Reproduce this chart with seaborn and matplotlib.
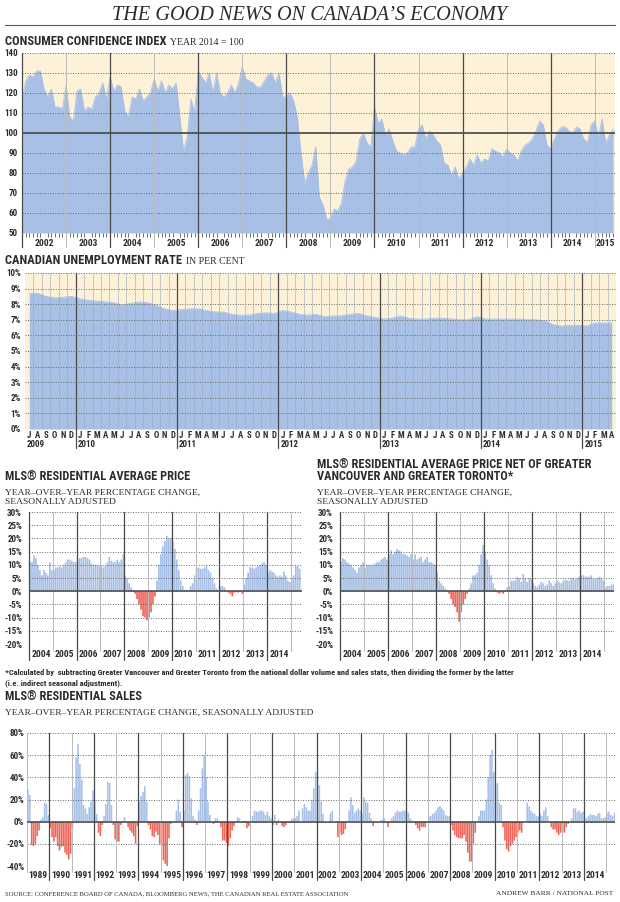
# %%
# Import libraries
from matplotlib import pyplot as plt
from matplotlib import font_manager
from matplotlib.lines import Line2D
from matplotlib.transforms import blended_transform_factory
import seaborn as sns
import pandas as pd
import numpy as np

# %%
# Values

# Consumer confidence index (2014 = 100), monthly from Jan 2002
cci_start = 2002
cci = [
    116, 126, 129, 128, 131, 131, 122, 118, 122, 113, 113, 112,  # 2002
    124, 108, 106, 121, 122, 111, 113, 112, 118, 120, 125, 117,  # 2003
    128, 121, 124, 123, 111, 108, 118, 117, 122, 116, 118, 120,  # 2004
    127, 121, 126, 120, 124, 122, 125, 108, 91, 98, 117, 110,    # 2005
    131, 128, 125, 130, 120, 130, 120, 118, 120, 124, 120, 125,  # 2006
    133, 127, 126, 125, 123, 123, 126, 129, 130, 125, 130, 118,  # 2007
    118, 120, 116, 108, 90, 75, 80, 84, 93, 68, 64, 57,          # 2008
    57, 62, 61, 65, 76, 82, 83, 86, 97, 100, 95, 93,             # 2009
    113, 105, 107, 99, 102, 96, 91, 90, 89, 90, 93, 93,          # 2010
    102, 104, 97, 101, 99, 96, 94, 85, 84, 79, 83, 77,           # 2011
    80, 83, 87, 84, 89, 85, 87, 86, 92, 91, 90, 88,              # 2012
    92, 90, 89, 86, 91, 94, 95, 97, 101, 106, 104, 94,           # 2013
    92, 97, 101, 103, 103, 101, 100, 103, 102, 97, 95, 104,      # 2014
    106, 98, 107, 95, 99, 102,                                   # 2015
]
cci_ticks = [50, 60, 70, 80, 90, 100, 110, 120, 130, 140]
cci_years = list(range(2002, 2016))

# Unemployment rate, monthly Jul 2009 - Apr 2015
jobless_start = (2009, 6)
jobless = [
    8.7, 8.7, 8.5, 8.4, 8.45, 8.5,                                     # 2009
    8.35, 8.25, 8.2, 8.15, 8.1, 7.95, 8.05, 8.15, 8.1, 7.95, 7.7, 7.6,  # 2010
    7.65, 7.7, 7.7, 7.6, 7.5, 7.5, 7.35, 7.3, 7.3, 7.4, 7.45, 7.4,     # 2011
    7.6, 7.5, 7.35, 7.3, 7.35, 7.2, 7.25, 7.25, 7.35, 7.4, 7.25, 7.15,  # 2012
    7.05, 7.1, 7.25, 7.1, 7.05, 7.05, 7.1, 7.1, 7.05, 7.0, 7.0, 7.2,   # 2013
    7.05, 7.05, 7.05, 7.05, 7.05, 7.0, 7.0, 6.95, 6.7, 6.6, 6.65, 6.65,  # 2014
    6.6, 6.8, 6.8, 6.8,                                                # 2015
]
month_letters = list('JFMAMJJASOND')
jobless_ticks = list(range(0, 11))

# MLS average price, y/y % change, monthly from Jan 2004
price_start = 2004
price = [
    11, 11, 13.5, 12.5, 10, 8, 6, 8, 7, 6, 11, 8,                 # 2004
    8, 9, 9, 9.5, 9, 10, 11, 12, 12, 11.5, 11, 11,               # 2005
    12, 12.5, 12.5, 13, 13, 12.5, 12, 10.5, 10, 10, 10, 9.5,     # 2006
    10, 9, 9.5, 11, 13, 11.5, 11, 11, 12, 11, 12, 14,            # 2007
    6, 5, 3, 1.5, 0.5, -1, -3, -5, -7, -9.5, -10, -11,           # 2008
    -10, -8, -5, -2, 4, 10, 14, 17, 19, 21, 20, 20,              # 2009
    19, 16, 12, 8, 4, 2, 0.5, 0.5, 0.5, 2, 3, 6,                 # 2010
    9, 9, 8.5, 8.5, 9, 9.5, 8, 7, 5, 3, 1, 0.5,                  # 2011
    2, 2, 1.5, 0.5, -0.5, -1, -2, -0.5, 0.5, -0.5, 0.5, -1,      # 2012
    2.5, 5, 7, 9, 9, 8.5, 9, 9.5, 10, 10.5, 11, 10,              # 2013
    7, 8, 7.5, 7, 6, 5.5, 6, 5.5, 7.5, 6, 4, 3.5,                # 2014
    5, 6, 9.5, 9.5, 8.5,                                         # 2015
]

# MLS average price net of Greater Vancouver and Greater Toronto
price_net = [
    11, 12.5, 12, 11, 10.5, 10, 9, 8, 7, 9, 10, 11,              # 2004
    9, 10, 10, 10, 10, 10.5, 11, 11, 12, 12.5, 13, 12,           # 2005
    14, 15.5, 14, 15, 16, 15.5, 15, 14, 14, 13.5, 13, 14,        # 2006
    12, 14, 12, 12.5, 13, 11, 12, 13, 11, 11, 10.5, 10,          # 2007
    7, 4, 3, 2, 1, 0.5, -1, -3, -5, -6, -8, -11.5,               # 2008
    -8, -5, -3, -1, 1, 3, 6, 6, 7, 10, 14, 17.5,                 # 2009
    15, 12, 10, 6, 3, 1, -0.5, -1, -0.5, -1, 0.5, 1.5,           # 2010
    2, 4, 4, 4, 5.5, 5, 3.5, 6.5, 5, 3.5, 5, 4.5,                # 2011
    3, 2, 1.5, 2.5, 3.5, 3, 2, 2.5, 4, 3, 2, 3,                  # 2012
    4, 3.5, 3, 4, 4.5, 4, 4, 5, 5, 4.5, 5, 5.5,                  # 2013
    6, 6, 5.5, 5.5, 5.5, 6, 5, 4.5, 5, 5.5, 5, 4,                # 2014
    1.5, 2, 2, 2.5, 2.5,                                         # 2015
]
price_ticks = [-20, -15, -10, -5, 0, 5, 10, 15, 20, 25, 30]
price_years = list(range(2004, 2015))

# MLS residential sales, y/y % change, monthly from Jan 1989
sales_start = 1989
sales = [
    29, 24, -21, -22, -20, -13, -8, 2, 4, 17, 16, 6,             # 1989
    -6, -14, -18, -14, -22, -26, -23, -22, -28, -30, -34, -29,   # 1990
    -5, 30, 58, 70, 52, 38, 15, 12, 7, 13, 18, 28,               # 1991
    20, 7, -10, -13, -3, 5, 16, 36, 35, 15, -3, -16,             # 1992
    -18, -18, -3, -1, 4, 0, -5, -8, -10, -13, -20, -4,           # 1993
    18, 23, 27, 32, 18, -3, -7, -13, -14, -9, -12, -20,          # 1994
    -22, -35, -38, -40, -15, -2, 0, 0, 10, 20, 9, -5,            # 1995
    10, 42, 44, 41, 21, 5, 2, -3, 10, 30, 48, 60,                # 1996
    40, 18, 6, 0, -2, 3, 3, 0, -5, -17, -17, -19,                # 1997
    -22, -15, -8, -4, 0, 4, 3, 0, -1, 1, -6, -4,                 # 1998
    0, 5, 10, 9, 9, 10, 10, 9, 6, 9, 5, 3,                       # 1999
    -3, 6, -3, 2, 0, -4, -5, -3, -1, -1, 2, 3,                   # 2000
    3, 5, 10, 0, 12, 16, 13, 10, 10, 20, 30, 45,                 # 2001
    40, 33, 18, 7, 0, 0, 0, 8, 10, 0, -1, -14,                   # 2002
    -10, -12, -11, -7, 0, 10, 22, 15, 8, 10, 12, 10,             # 2003
    7, 22, 18, 17, 8, 3, -4, 0, 0, 0, 1, 2,                      # 2004
    3, 0, -5, 0, 3, 5, 8, 10, 9, 9, 10, 10,                      # 2005
    10, 8, 3, 1, 0, -3, -6, -8, -5, -5, -5, 0,                   # 2006
    5, 5, 7, 8, 10, 13, 14, 12, 10, 6, 5, 5,                     # 2007
    -3, -8, -12, -14, -15, -15, -15, -12, -18, -28, -36, -36,    # 2008
    -20, -10, 0, 5, 10, 10, 10, 20, 40, 60, 65, 45,              # 2009
    33, 35, 17, 15, -5, -17, -25, -27, -22, -20, -17, -14,       # 2010
    -10, -8, -10, 0, 0, 17, 14, 10, 8, 7, 5, 5,                  # 2011
    7, 5, 10, 13, 5, 0, -5, -7, -7, -10, -12, -10,               # 2012
    -9, -10, -5, -2, 0, 3, 12, 12, 9, 10, 8, 9,                  # 2013
    2, 3, 5, 7, 6, 6, 5, 7, 8, 3, 3, 4,                          # 2014
    8, 9, 6, 5, 8,                                               # 2015
]
sales_ticks = [-40, -20, 0, 20, 40, 60, 80]
sales_years = list(range(1989, 2015))

# %%
# Style
W, H = 620, 902
CREAM = '#fdf1d8'
BLUE = '#a8c0e6'
BAR_BLUE = '#a6c0e8'
BAR_RED = '#f0665a'
INK = '#2b2b2b'
DARK = '#4a4a4a'
LIGHT = '#b9b9b9'
GRID = '#666666'
DOT = (0, (1, 1.6))

sns.set_theme(style='white')
names = {f.name for f in font_manager.fontManager.ttflist}
NARROW = next((f for f in ['Liberation Sans Narrow', 'Roboto Condensed', 'Roboto']
               if f in names), 'DejaVu Sans')
SERIF = 'Liberation Serif'
plt.rcParams['font.family'] = [NARROW, 'DejaVu Sans']
plt.rcParams['font.weight'] = 'bold'

fig = plt.figure(figsize=(W / 100, H / 100), dpi=100)
renderer = fig.canvas.get_renderer()


def add_ax(left, top, right, bottom):
    return fig.add_axes([left / W, 1 - bottom / H, (right - left) / W, (bottom - top) / H])


def ftext(x, y, s, **kw):
    kw.setdefault('color', INK)
    kw.setdefault('va', 'baseline')
    return fig.text(x / W, 1 - y / H, s, **kw)


def heading(x, y, title, sub=None, size=9):
    t = ftext(x, y, title, size=size, weight='bold')
    if sub:
        bb = t.get_window_extent(renderer)
        ftext(bb.x1 + 4, y, sub, size=7, family=SERIF, weight='normal')


def style_axis(ax, ticks, fmt, pad):
    ax.set_yticks(ticks)
    ax.set_yticklabels([fmt.format(v) for v in ticks])
    ax.grid(axis='y', color=GRID, lw=0.7, ls=DOT)
    ax.grid(axis='x', visible=False)
    ax.set_axisbelow(False)
    for s in ax.spines.values():
        s.set_visible(False)
    ax.tick_params(axis='y', length=0, pad=pad, labelsize=6.5, labelcolor=INK)
    ax.set_xlabel('')
    ax.set_ylabel('')


def year_lines(ax, years, dark_below, light_below):
    for y in years:
        even = y % 2 == 0
        ax.axvline(y, color=DARK if even else LIGHT, lw=0.9 if even else 0.7,
                   ymin=-(dark_below if even else light_below), ymax=1,
                   clip_on=False, zorder=3)


def bar_panel(ax, start, values, ticks, years, end, pad, xpad, dark_below, light_below):
    x = start + (np.arange(len(values)) + 0.5) / 12
    df = pd.DataFrame({'x': x, 'y': values})
    df['sign'] = np.where(df['y'] < 0, 'down', 'up')
    sns.barplot(data=df, x='x', y='y', hue='sign', native_scale=True,
                palette={'up': BAR_BLUE, 'down': BAR_RED}, width=0.86,
                saturation=1, errorbar=None, legend=False, linewidth=0, ax=ax)
    # no pixel snapping, so the thin gaps between bars stay even
    for p in ax.patches:
        p.set_snap(False)
    ax.set_xlim(start, end)
    ax.set_ylim(ticks[0], ticks[-1])
    style_axis(ax, ticks, '{}%', pad)
    ax.axhline(0, color=DARK, lw=1.1, zorder=4)
    year_lines(ax, range(start, int(end) + 1), dark_below, light_below)
    ax.set_xticks([y + 0.5 for y in years])
    ax.set_xticklabels([str(y) for y in years])
    ax.tick_params(axis='x', length=0, pad=xpad, labelsize=6.8, labelcolor=INK)


# %%
# Title
ftext(310, 20, 'THE GOOD NEWS ON CANADA’S ECONOMY', ha='center', size=14.6,
      family=SERIF, style='italic', weight='normal')
fig.add_artist(Line2D([5 / W, 615 / W], [1 - 25 / H] * 2, color='#555', lw=0.8))

# Consumer confidence
heading(5, 45, 'CONSUMER CONFIDENCE INDEX', 'YEAR 2014 = 100')
ax1 = add_ax(22, 53, 615, 233)
ax1.set_facecolor(CREAM)
x1 = cci_start + np.arange(len(cci)) / 12
ax1.fill_between(x1, 50, cci, color=BLUE, lw=0)
sns.lineplot(x=x1, y=cci, color=BLUE, lw=0.6, ax=ax1)
ax1.set_xlim(2002, 2015.46)
ax1.set_ylim(50, 140)
style_axis(ax1, cci_ticks, '{}', 3)
ax1.axhline(100, color=DARK, lw=1.2, zorder=4)
year_lines(ax1, cci_years, 0.078, 0.078)
ax1.set_xticks([y + 0.5 for y in cci_years[:-1]] + [2015.23])
ax1.set_xticklabels([str(y) for y in cci_years])
ax1.set_xticks(np.arange(2002, 2015.45, 1 / 12), minor=True)
ax1.tick_params(axis='x', which='major', length=0, pad=4, labelsize=6.8, labelcolor=INK)
ax1.tick_params(axis='x', which='minor', bottom=True, length=3, width=0.6,
                color='#555', direction='out')

# Unemployment
heading(5, 264, 'CANADIAN UNEMPLOYMENT RATE', 'IN PER CENT')
ax2 = add_ax(25, 273, 616, 429)
ax2.set_facecolor(CREAM)
n = len(jobless)
x2 = np.arange(n) + 0.5
ax2.fill_between(x2, 0, jobless, color=BLUE, lw=0)
sns.lineplot(x=x2, y=jobless, color=BLUE, lw=0.6, ax=ax2)
ax2.set_xlim(0, n)
ax2.set_ylim(0, 10)
style_axis(ax2, jobless_ticks, '{}%', 3)
trans = blended_transform_factory(ax2.transData, ax2.transAxes)
year, month = jobless_start
labels = []
for i in range(n):
    m = (month + i) % 12
    y = year + (month + i) // 12
    labels.append(month_letters[m])
    if m == 0:
        ax2.axvline(i, color=DARK, lw=0.9, ymin=-0.12, clip_on=False, zorder=3)
        ax2.text(i + 0.25, -0.115, str(y), transform=trans, size=6.5, va='baseline', color=INK)
    elif i > 0:
        ax2.axvline(i, color='#9aa8bc', lw=0.5, alpha=0.8, zorder=3)
ax2.text(0.25, -0.115, str(year), transform=trans, size=6.5, va='baseline', color=INK)
ax2.set_xticks(x2)
ax2.set_xticklabels(labels)
ax2.tick_params(axis='x', length=0, pad=1.5, labelsize=6.3, labelcolor=INK)

# Average price panels
heading(5, 480, 'MLS® RESIDENTIAL AVERAGE PRICE', size=8.8)
ftext(5, 495, 'YEAR–OVER–YEAR PERCENTAGE CHANGE,', size=6.8, family=SERIF, weight='normal')
ftext(5, 504, 'SEASONALLY ADJUSTED', size=6.8, family=SERIF, weight='normal')
ax3 = add_ax(29, 512, 302, 644)
bar_panel(ax3, price_start, price, price_ticks, price_years, 2015.47, 5, 4, 0.12, 0.05)

heading(317, 468, 'MLS® RESIDENTIAL AVERAGE PRICE NET OF GREATER', size=8.8)
heading(317, 480, 'VANCOUVER AND GREATER TORONTO*', size=8.8)
ftext(317, 495, 'YEAR–OVER–YEAR PERCENTAGE CHANGE,', size=6.8, family=SERIF, weight='normal')
ftext(317, 504, 'SEASONALLY ADJUSTED', size=6.8, family=SERIF, weight='normal')
ax4 = add_ax(340, 512, 614, 644)
bar_panel(ax4, price_start, price_net, price_ticks, price_years, 2015.4, 5, 4, 0.12, 0.05)

# Footnote
ftext(5, 675, '*Calculated by  subtracting Greater Vancouver and Greater Toronto from the national '
      'dollar volume and sales stats, then dividing the former by the latter', size=6.0)
ftext(5, 685, '(i.e. indirect seasonal adjustment).', size=6.0)

# Sales
heading(5, 700, 'MLS® RESIDENTIAL SALES', size=8.8)
ftext(5, 715, 'YEAR–OVER–YEAR PERCENTAGE CHANGE, SEASONALLY ADJUSTED', size=6.8,
      family=SERIF, weight='normal')
ax5 = add_ax(27, 733, 615, 866)
bar_panel(ax5, sales_start, sales, sales_ticks, sales_years, 2015.4, 2, 3.3, 0.105, 0.045)

# Source
ftext(5, 895, 'SOURCE: CONFERENCE BOARD OF CANADA, BLOOMBERG NEWS, THE CANADIAN REAL ESTATE '
      'ASSOCIATION', size=4.8, family=SERIF, weight='normal')
ftext(613, 895, 'ANDREW BARR / NATIONAL POST', ha='right', size=5.3, family=SERIF,
      weight='normal')

fig.savefig('out.png', dpi=100)
